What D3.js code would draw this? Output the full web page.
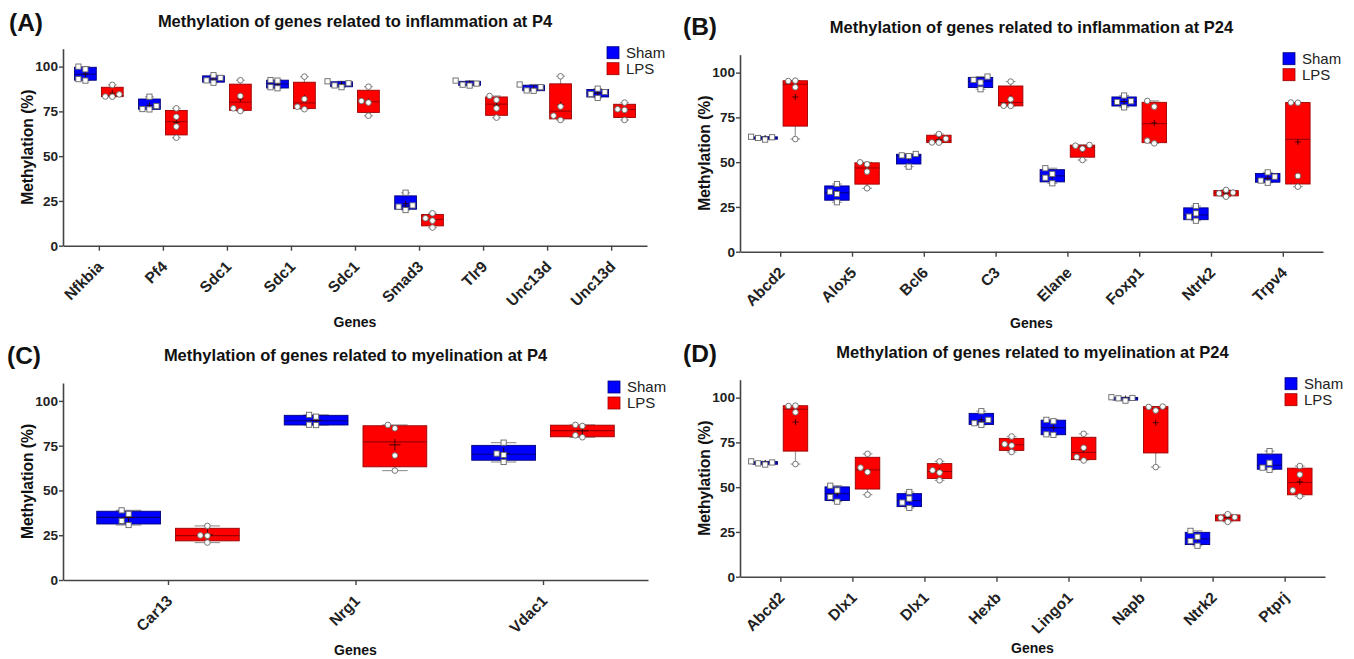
<!DOCTYPE html>
<html>
<head>
<meta charset="utf-8">
<script src="https://cdn.jsdelivr.net/npm/d3@7"></script>
<style>
  body { margin: 0; background: #fff; }
  text { font-family: "Liberation Sans", Arial, sans-serif; }
</style>
</head>
<body>
<svg id="chart" width="1354" height="659"></svg>
<script>
// Tick values and groups
const yTicks = [0, 25, 50, 75, 100];
const groupNames = ["Sham", "LPS"];
const groupColors = ["#0000ff", "#ff0000"];
const groupStrokes = ["#00007a", "#9a0000"];

// (A) inflammation at P4
const genesA = ["Nfkbia", "Pf4", "Sdc1", "Sdc1", "Sdc1", "Smad3", "Tlr9", "Unc13d", "Unc13d"];
const shamA = [
  [92.2, 93, 98.5, 100], [76.1, 76.3, 78, 83.2], [91, 92.3, 93.7, 95.2],
  [87.9, 88.5, 92.2, 92.5], [88.5, 89.5, 90.7, 91.8], [19.9, 21.8, 22.5, 29.6],
  [89.4, 89.9, 90.5, 92.2], [86.5, 86.7, 88.5, 90], [82.5, 84.7, 85.8, 87.7]
];
const lpsA = [
  [83.2, 83.3, 84.5, 89.8], [60.3, 66.5, 72, 76.7], [75.2, 76.7, 83.6, 92.4],
  [76.2, 77.6, 81.9, 94.4], [72.6, 79.9, 80.8, 88.8], [10.1, 14, 15.3, 18.1],
  [71.5, 76.7, 81.4, 83.6], [70.2, 72.6, 77.7, 94.6], [70.2, 75.8, 76.2, 79.9]
];

// (B) inflammation at P24
const genesB = ["Abcd2", "Alox5", "Bcl6", "C3", "Elane", "Foxp1", "Ntrk2", "Trpv4"];
const shamB = [
  [62.6, 63.5, 63.9, 64.2], [27.6, 32.2, 33.5, 37.8], [47.5, 53.4, 53.8, 54.6],
  [90.7, 94.5, 95.9, 97.8], [38.2, 41.3, 43.4, 46.6], [80.6, 83.6, 84, 87.2],
  [17.3, 19.6, 21.4, 25.5], [38.5, 39.7, 41.9, 44.3]
];
const lpsB = [
  [62.9, 91.8, 95.3, 95.5], [35.4, 44.7, 48.8, 49.9], [60.9, 61, 63.1, 65.7],
  [81.4, 81.5, 85.1, 95], [51.2, 57.5, 59.2, 59.6], [60.5, 62, 81, 84.2],
  [30.7, 32.6, 33, 34.5], [36.3, 42.3, 83.2, 83.3]
];

// (C) myelination at P4
const genesC = ["Car13", "Nrg1", "Vdac1"];
const shamC = [[30.7, 33, 36.9, 38.9], [86.5, 86.7, 91.2, 92.2], [65.9, 69.8, 70.6, 76.7]];
const lpsC = [[20.9, 24.7, 24.9, 30.2], [61.1, 69.5, 84.7, 86.6], [79.7, 80.8, 86, 86.6]];

// (D) myelination at P24
const genesD = ["Abcd2", "Dlx1", "Dlx1", "Hexb", "Lingo1", "Napb", "Ntrk2", "Ptprj"];
const shamD = [
  [62.6, 63.3, 63.8, 64.4], [41.9, 44.5, 48.2, 50.8], [38.4, 41.4, 43.6, 47.3],
  [84.8, 85.7, 87.6, 92.4], [79.2, 79.5, 86.8, 87.6], [98.3, 99.6, 99.8, 100.2],
  [17.3, 19.9, 22.3, 25.6], [59.7, 60.9, 63.6, 70.1]
];
const lpsD = [
  [62.9, 91.8, 95.3, 95.5], [45.8, 58.4, 60.9, 68.6], [53.8, 58.1, 59.4, 64.4],
  [69.6, 73.3, 74, 78.3], [64.9, 66.8, 72, 79.8], [61.2, 92.8, 94.8, 95],
  [30.6, 32.9, 33.2, 34.9], [44.9, 48.2, 57, 61.8]
];

// Panel layout
const panels = [
  { label: "(A)", title: "Methylation of genes related to inflammation at P4",
    genes: genesA, groups: [shamA, lpsA], x0: 63, x1: 647, y0: 245.7, labelX: 9, labelY: 31, genesY: 327 },
  { label: "(B)", title: "Methylation of genes related to inflammation at P24",
    genes: genesB, groups: [shamB, lpsB], x0: 740, x1: 1323, y0: 251.7, labelX: 683, labelY: 35, genesY: 328 },
  { label: "(C)", title: "Methylation of genes related to myelination at P4",
    genes: genesC, groups: [shamC, lpsC], x0: 63, x1: 648, y0: 580, labelX: 7, labelY: 364, genesY: 655 },
  { label: "(D)", title: "Methylation of genes related to myelination at P24",
    genes: genesD, groups: [shamD, lpsD], x0: 740, x1: 1325, y0: 576.7, labelX: 683, labelY: 362, genesY: 653 }
];

const svg = d3.select("#chart");
const plotH = 197; // pixels from 0 to 110

// quartile, (n+1)p method
function quant(s, p) {
  const n = s.length;
  const pos = (n + 1) * p;
  const i = Math.floor(pos);
  const f = pos - i;
  if (i < 1) return s[0];
  if (i >= n) return s[n - 1];
  return s[i - 1] + f * (s[i] - s[i - 1]);
}

// simple beeswarm so close points don't overlap
function swarm(vals, y, gap) {
  const placed = [];
  const order = vals.map((v, i) => i).sort((a, b) => vals[a] - vals[b]);
  const tries = [0, -1, 1, -2, 2];
  order.forEach(i => {
    const py = y(vals[i]);
    for (const t of tries) {
      const px = t * gap;
      if (!placed.some(p => Math.abs(p.x - px) < gap * 0.9 && Math.abs(p.y - py) < gap * 0.9)) {
        placed.push({ x: px, y: py });
        break;
      }
    }
  });
  return placed;
}

function drawPanel(p) {
  const g = svg.append("g");

  const x = d3.scalePoint()
    .domain(d3.range(p.genes.length))
    .range([p.x0, p.x1])
    .padding(0.56);
  const y = d3.scaleLinear()
    .domain([0, 110])
    .range([p.y0, p.y0 - plotH]);

  const step = x.step();
  const bw = step * 0.34;
  const off = step * 0.21;

  // axes
  const yAxis = g.append("g")
    .attr("transform", `translate(${p.x0},0)`)
    .call(d3.axisLeft(y).tickValues(yTicks).tickSize(4).tickSizeOuter(0));
  const xAxis = g.append("g")
    .attr("transform", `translate(0,${p.y0})`)
    .call(d3.axisBottom(x).tickFormat(i => p.genes[i]).tickSize(5).tickSizeOuter(0));

  [yAxis, xAxis].forEach(a => {
    a.attr("font-family", null).attr("font-size", null);
    a.select(".domain").attr("stroke", "#444").attr("stroke-width", 1.6);
    a.selectAll(".tick line").attr("stroke", "#444").attr("stroke-width", 1.4);
    a.selectAll(".tick text").attr("fill", "#222").style("font-weight", "bold");
  });
  yAxis.selectAll(".tick text").style("font-size", "13.6px").attr("x", -5);
  xAxis.selectAll(".tick text")
    .style("font-size", "15.5px")
    .attr("text-anchor", "end")
    .attr("x", 0).attr("y", 0).attr("dy", "0.35em")
    .attr("transform", "translate(1,18) rotate(-45)");

  // boxes
  p.groups.forEach((series, k) => {
    series.forEach((vals, i) => {
      const s = vals.slice().sort((a, b) => a - b);
      const q1 = quant(s, 0.25), med = quant(s, 0.5), q3 = quant(s, 0.75);
      const mean = d3.mean(s);
      const cx = x(i) + (k === 0 ? -off : off);
      const box = g.append("g");
      const cap = bw * 0.4;

      // whiskers
      box.append("line")
        .attr("x1", cx).attr("x2", cx)
        .attr("y1", y(s[0])).attr("y2", y(s[s.length - 1]))
        .attr("stroke", "#999").attr("stroke-width", 1.2);
      [s[0], s[s.length - 1]].forEach(v => {
        box.append("line")
          .attr("x1", cx - cap / 2).attr("x2", cx + cap / 2)
          .attr("y1", y(v)).attr("y2", y(v))
          .attr("stroke", "#999").attr("stroke-width", 1.2);
      });

      box.append("rect")
        .attr("x", cx - bw / 2).attr("width", bw)
        .attr("y", y(q3)).attr("height", Math.max(1, y(q1) - y(q3)))
        .attr("fill", groupColors[k])
        .attr("stroke", groupStrokes[k]).attr("stroke-width", 0.9);

      box.append("line")
        .attr("x1", cx - bw / 2).attr("x2", cx + bw / 2)
        .attr("y1", y(med)).attr("y2", y(med))
        .attr("stroke", groupStrokes[k]).attr("stroke-width", 1.1);

      // mean "+"
      const mh = Math.max(3, bw * 0.09);
      box.append("path")
        .attr("d", `M${cx - mh},${y(mean)}H${cx + mh}M${cx},${y(mean) - mh}V${y(mean) + mh}`)
        .attr("stroke", "#300").attr("stroke-width", 0.9).attr("fill", "none");

      // points
      const pts = swarm(s, y, 7);
      pts.forEach(pt => {
        if (k === 0) {
          box.append("rect")
            .attr("x", cx + pt.x - 2.6).attr("y", pt.y - 2.6)
            .attr("width", 5.2).attr("height", 5.2)
            .attr("fill", "#fff").attr("stroke", "#666").attr("stroke-width", 0.9);
        } else {
          box.append("circle")
            .attr("cx", cx + pt.x).attr("cy", pt.y).attr("r", 2.8)
            .attr("fill", "#fff").attr("stroke", "#666").attr("stroke-width", 0.9);
        }
      });
    });
  });

  // titles and labels
  g.append("text")
    .attr("x", p.labelX).attr("y", p.labelY)
    .style("font-size", "24.5px").style("font-weight", "bold").attr("fill", "#111")
    .text(p.label);

  g.append("text")
    .attr("x", (p.x0 + p.x1) / 2).attr("y", p.y0 - 219)
    .attr("text-anchor", "middle")
    .style("font-size", "16.5px").style("font-weight", "bold").attr("fill", "#111")
    .text(p.title);

  g.append("text")
    .attr("transform", `translate(${p.x0 - 35},${p.y0 - plotH / 2}) rotate(-90)`)
    .attr("text-anchor", "middle").attr("dy", "0.35em")
    .style("font-size", "15.6px").style("font-weight", "bold").attr("fill", "#111")
    .text("Methylation (%)");

  g.append("text")
    .attr("x", (p.x0 + p.x1) / 2).attr("y", p.genesY)
    .attr("text-anchor", "middle")
    .style("font-size", "14px").style("font-weight", "bold").attr("fill", "#111")
    .text("Genes");

  // legend
  const legend = g.append("g")
    .attr("transform", `translate(${p.x1 - 40},${p.y0 - plotH - 2})`);
  groupNames.forEach((name, k) => {
    legend.append("rect")
      .attr("x", 0).attr("y", k * 16)
      .attr("width", 12).attr("height", 12)
      .attr("fill", groupColors[k]).attr("stroke", groupStrokes[k]).attr("stroke-width", 0.8);
    legend.append("text")
      .attr("x", 19).attr("y", k * 16 + 11)
      .style("font-size", "15px").attr("fill", "#222")
      .text(name);
  });
}

panels.forEach(drawPanel);
</script>
</body>
</html>
